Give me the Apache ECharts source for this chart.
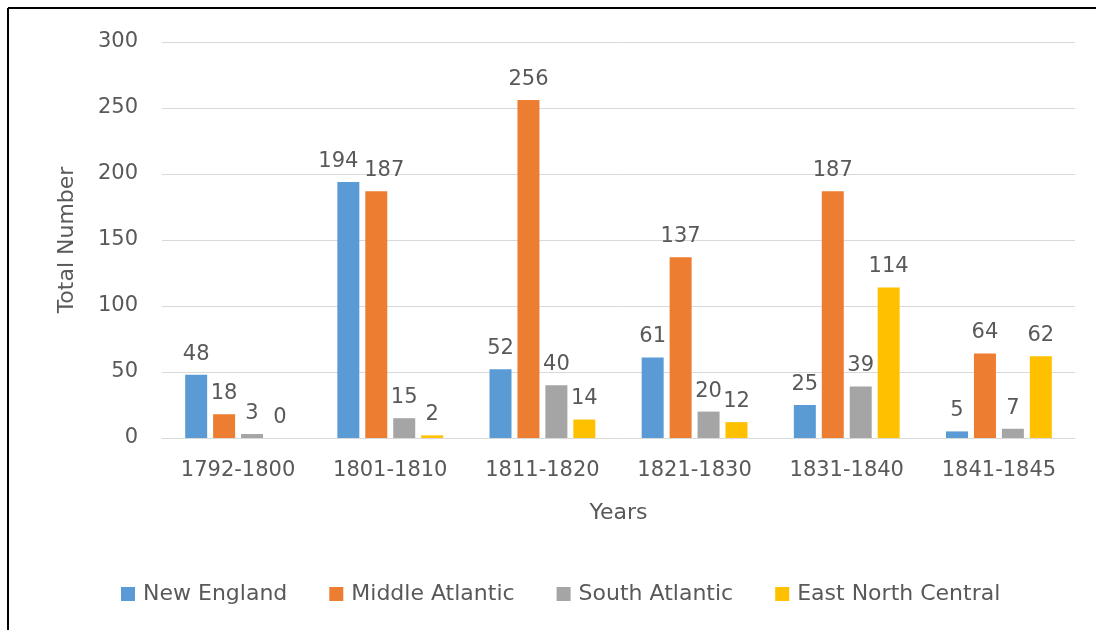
<!DOCTYPE html>
<html>
<head>
<meta charset="utf-8">
<script src="https://cdn.jsdelivr.net/npm/echarts@6/dist/echarts.min.js"></script>
<style>
  html, body { margin: 0; padding: 0; background: #fff; }
  #chart { width: 1096px; height: 630px; }
</style>
</head>
<body>
<div id="chart"></div>
<script>
// Decades of the period covered
const categories = ['1792-1800', '1801-1810', '1811-1820', '1821-1830', '1831-1840', '1841-1845'];

// Totals per region
const newEngland = [48, 194, 52, 61, 25, 5];
const middleAtlantic = [18, 187, 256, 137, 187, 64];
const southAtlantic = [3, 15, 40, 20, 39, 7];
const eastNorthCentral = [0, 2, 14, 12, 114, 62];

const seriesNames = ['New England', 'Middle Atlantic', 'South Atlantic', 'East North Central'];
const seriesData = [newEngland, middleAtlantic, southAtlantic, eastNorthCentral];
const colors = ['#5B9BD5', '#ED7D31', '#A5A5A5', '#FFC000'];

const FONT = '"DejaVu Sans", sans-serif';
const TEXT = '#595959';

// nudge the two crowded labels of 1801-1810 apart
const labelNudges = { '0-1': [-10, 0], '1-1': [8, 0] };

const chart = echarts.init(document.getElementById('chart'), null, { renderer: 'canvas' });

chart.setOption({
  backgroundColor: '#ffffff',
  animation: false,
  color: colors,
  textStyle: { fontFamily: FONT, color: TEXT },
  graphic: [
    // frame around the chart (top and left edges)
    { type: 'line', shape: { x1: 8, y1: 8, x2: 1096, y2: 8 }, style: { stroke: '#000', lineWidth: 2 } },
    { type: 'line', shape: { x1: 8, y1: 8, x2: 8, y2: 630 }, style: { stroke: '#000', lineWidth: 2 } }
  ],
  grid: { left: 162, right: 21, top: 42, bottom: 192, containLabel: false },
  legend: {
    data: seriesNames,
    left: 116,
    top: 578,
    itemWidth: 14,
    itemHeight: 14,
    itemGap: 42,
    icon: 'rect',
    textStyle: { fontFamily: FONT, fontSize: 22, color: TEXT, padding: [0, 0, 0, 3] }
  },
  xAxis: {
    type: 'category',
    data: categories,
    name: 'Years',
    nameLocation: 'middle',
    nameGap: 64,
    nameTextStyle: { fontFamily: FONT, fontSize: 22, color: TEXT },
    axisLine: { show: true, lineStyle: { color: '#D9D9D9', width: 1 } },
    axisTick: { show: false },
    axisLabel: { fontFamily: FONT, fontSize: 21, color: TEXT, margin: 22 }
  },
  yAxis: {
    type: 'value',
    min: 0,
    max: 300,
    interval: 50,
    name: 'Total Number',
    nameLocation: 'middle',
    nameGap: 84,
    nameRotate: 90,
    nameTextStyle: { fontFamily: FONT, fontSize: 22, color: TEXT },
    axisLine: { show: false },
    axisTick: { show: false },
    splitLine: { lineStyle: { color: '#D9D9D9', width: 1 } },
    axisLabel: { fontFamily: FONT, fontSize: 21, color: TEXT, margin: 24 }
  },
  series: seriesNames.map((name, i) => ({
    name: name,
    type: 'bar',
    data: seriesData[i].map((v, j) => {
      const nudge = labelNudges[i + '-' + j];
      return nudge ? { value: v, label: { offset: nudge } } : v;
    }),
    barWidth: 22,
    barGap: '27%',
    barCategoryGap: '30%',
    itemStyle: { color: colors[i] },
    label: {
      show: true,
      position: 'top',
      distance: 10,
      fontFamily: FONT,
      fontSize: 21,
      color: TEXT
    }
  }))
});
</script>
</body>
</html>
